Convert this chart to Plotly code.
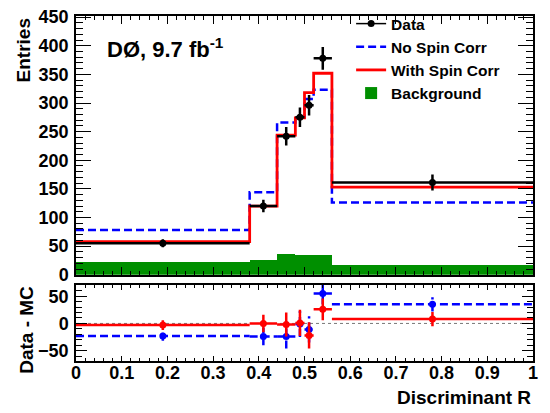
import plotly.graph_objects as go

# ---------------- data ----------------
bin_edges = [0.0, 0.38, 0.44, 0.48, 0.50, 0.52, 0.56, 1.0]
data_counts = [55, 120, 242, 275, 296, 378, 161]
data_errors = [7, 11, 16, 17, 18, 20, 14]
no_spin_corr = [78, 144, 266, 276, 307, 323, 126]
with_spin_corr = [58, 120, 244, 274, 318, 352, 153]
background = [22, 25, 37, 35, 35, 35, 17]
resid_no_spin = [-23, -24, -24, -1, -11, 55, 35]
resid_with_spin = [-3, 0, -2, 1, -22, 26, 8]
resid_errors = [9, 16, 22, 24, 24, 20, 13]
x_tick_vals = [0, 0.1, 0.2, 0.3, 0.4, 0.5, 0.6, 0.7, 0.8, 0.9, 1.0]
x_tick_text = ["0", "0.1", "0.2", "0.3", "0.4", "0.5", "0.6", "0.7", "0.8", "0.9", "1"]

FONT = "Liberation Sans, Arial, Helvetica, sans-serif"
RED = "#ff0000"
BLUE = "#0000ff"
GREEN = "#008f00"

centers = [(bin_edges[i] + bin_edges[i + 1]) / 2 for i in range(len(bin_edges) - 1)]
half_w = [(bin_edges[i + 1] - bin_edges[i]) / 2 for i in range(len(bin_edges) - 1)]
widths = [2 * h for h in half_w]

fig = go.Figure()

# background (filled histogram)
fig.add_trace(go.Bar(x=centers, y=background, width=widths, marker=dict(color=GREEN, line=dict(width=0)),
                     name="Background", legendrank=4, xaxis="x", yaxis="y"))
# no spin corr
fig.add_trace(go.Scatter(x=bin_edges, y=no_spin_corr + [no_spin_corr[-1]], mode="lines", line_shape="hv",
                         line=dict(color=BLUE, width=2.5, dash="8px,4px"), name="No Spin Corr",
                         legendrank=2, xaxis="x", yaxis="y"))
# with spin corr
fig.add_trace(go.Scatter(x=bin_edges, y=with_spin_corr + [with_spin_corr[-1]], mode="lines", line_shape="hv",
                         line=dict(color=RED, width=2.8), name="With Spin Corr",
                         legendrank=3, xaxis="x", yaxis="y"))
# data
fig.add_trace(go.Scatter(x=centers, y=data_counts, mode="markers",
                         marker=dict(color="black", size=7),
                         error_x=dict(type="data", array=half_w, width=0, thickness=2.5, color="black"),
                         error_y=dict(type="data", array=data_errors, width=0, thickness=2.5, color="black"),
                         showlegend=False, xaxis="x", yaxis="y"))
fig.add_trace(go.Scatter(x=[None], y=[None], mode="lines+markers", marker=dict(color="black", size=7),
                         line=dict(color="black", width=1.5), name="Data", legendrank=1,
                         xaxis="x", yaxis="y"))

# residuals: no spin corr (dashed blue segments)
seg_x, seg_y = [], []
for c, h, r, e in zip(centers, half_w, resid_no_spin, resid_errors):
    seg_x += [c - h, c + h, None, c, c, None]
    seg_y += [r, r, None, r - e, r + e, None]
fig.add_trace(go.Scatter(x=seg_x, y=seg_y, mode="lines", line=dict(color=BLUE, width=2.5, dash="8px,4px"),
                         showlegend=False, xaxis="x2", yaxis="y2", connectgaps=False))
fig.add_trace(go.Scatter(x=centers, y=resid_no_spin, mode="markers", marker=dict(color=BLUE, size=7),
                         showlegend=False, xaxis="x2", yaxis="y2"))
# residuals: with spin corr (red)
fig.add_trace(go.Scatter(x=centers, y=resid_with_spin, mode="markers", marker=dict(color=RED, size=7),
                         error_x=dict(type="data", array=half_w, width=0, thickness=2.5, color=RED),
                         error_y=dict(type="data", array=resid_errors, width=0, thickness=2.5, color=RED),
                         showlegend=False, xaxis="x2", yaxis="y2"))

axis_common = dict(showline=True, linecolor="black", linewidth=1.5, mirror="allticks", ticks="inside",
                   tickcolor="black", tickwidth=1, showgrid=False, zeroline=False)
tickfont = dict(family=FONT, size=18, color="black", weight="bold")

fig.update_layout(
    width=550, height=413,
    margin=dict(l=76, r=17, t=7, b=52),
    plot_bgcolor="white", paper_bgcolor="white",
    font=dict(family=FONT, color="black"),
    bargap=0,
    xaxis=dict(domain=[0, 1], anchor="y", range=[0, 1], showticklabels=False,
               tickvals=x_tick_vals, ticklen=8,
               minor=dict(dtick=0.02, ticklen=4, ticks="inside", tickcolor="black"),
               matches="x2", **axis_common),
    yaxis=dict(domain=[0.25, 1], anchor="x", range=[0, 452], dtick=50, tick0=0, ticklen=15,
               minor=dict(dtick=10, ticklen=7, ticks="inside", tickcolor="black"),
               tickfont=tickfont, ticklabelstandoff=2, **axis_common),
    xaxis2=dict(domain=[0, 1], anchor="y2", range=[0, 1], tickvals=x_tick_vals, ticktext=x_tick_text,
                ticklen=5, minor=dict(dtick=0.02, ticklen=3, ticks="inside", tickcolor="black"),
                tickfont=tickfont, ticklabelstandoff=-5, **axis_common),
    yaxis2=dict(domain=[0, 0.221], anchor="x2", range=[-69, 71], dtick=50, tick0=0, ticklen=11,
                minor=dict(dtick=10, ticklen=6, ticks="inside", tickcolor="black"),
                tickfont=tickfont, ticklabelstandoff=2, **axis_common),
    legend=dict(x=0.602, y=1.026, xanchor="left", yanchor="top", bgcolor="rgba(255,255,255,0)",
                font=dict(family=FONT, size=15.5, color="black", weight="bold"),
                itemwidth=30, tracegroupgap=0),
    shapes=[dict(type="line", xref="x2 domain", yref="y2", x0=0, x1=1, y0=0, y1=0,
                 line=dict(color="#777777", width=1, dash="dot"), layer="below")],
    annotations=[
        dict(text="Entries", textangle=-90, xref="paper", yref="paper", x=-0.115, y=1.0,
             xanchor="center", yanchor="top", showarrow=False,
             font=dict(family=FONT, size=19, weight="bold")),
        dict(text="Data - MC", textangle=-90, xref="paper", yref="paper", x=-0.11, y=0.223,
             xanchor="center", yanchor="top", showarrow=False,
             font=dict(family=FONT, size=19, weight="bold")),
        dict(text="Discriminant R", xref="paper", yref="paper", x=1.0, y=-0.105,
             xanchor="right", yanchor="middle", showarrow=False,
             font=dict(family=FONT, size=19, weight="bold")),
        dict(text="DØ, 9.7 fb<sup>-1</sup>", xref="paper", yref="paper", x=0.063, y=0.906,
             xanchor="left", yanchor="middle", showarrow=False,
             font=dict(family=FONT, size=22, weight="bold")),
    ],
)

fig.write_html("out.html", config={"displayModeBar": False},
               post_script="document.body.style.margin='0px';document.body.style.padding='0px';")
